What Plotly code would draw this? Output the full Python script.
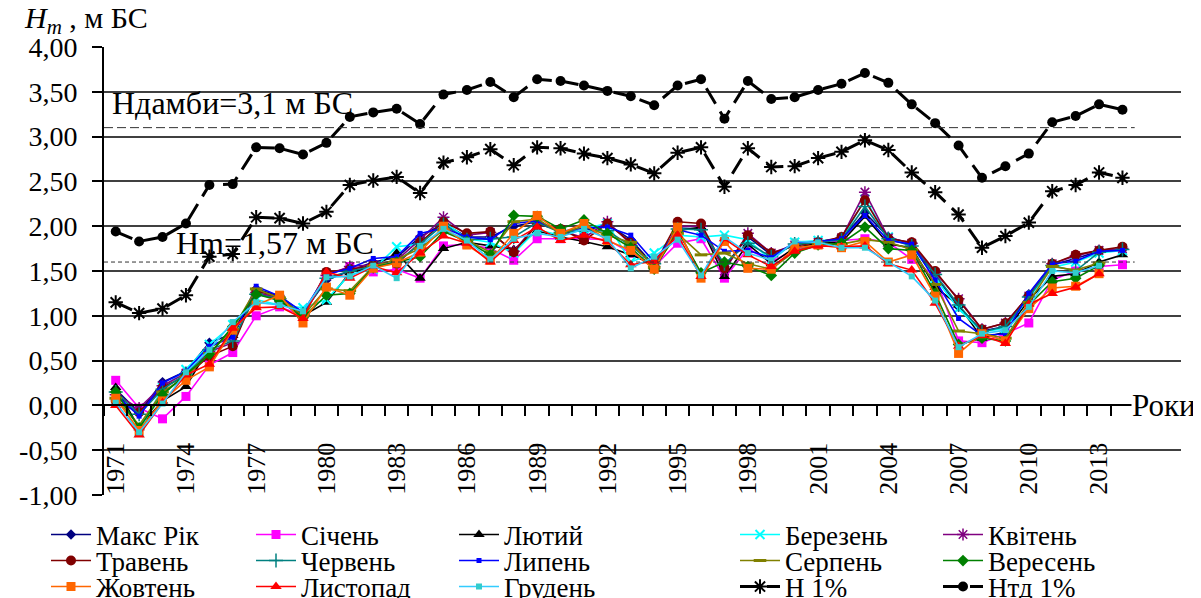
import plotly.graph_objects as go

years = list(range(1971, 2015))
tick_years = list(range(1971, 2014, 3))
tick_year_text = [str(y) for y in tick_years]
y_ticks = [4.0, 3.5, 3.0, 2.5, 2.0, 1.5, 1.0, 0.5, 0.0, -0.5, -1.0]
y_tick_text = ["4,00", "3,50", "3,00", "2,50", "2,00", "1,50", "1,00", "0,50", "0,00", "-0,50", "-1,00"]

maks = [.18,-.08,.26,.38,.70,.80,1.30,1.22,1.03,1.40,1.50,1.60,1.65,1.88,2.03,1.88,1.88,2.00,2.05,1.94,1.95,2.02,1.85,1.56,1.98,1.97,1.55,1.88,1.68,1.80,1.83,1.86,2.15,1.88,1.80,1.45,1.10,.83,.88,1.24,1.57,1.64,1.72,1.74]
sich = [.28,-.03,-.15,.10,.45,.59,1.00,1.10,1.00,1.45,1.55,1.49,1.52,1.42,1.78,1.80,1.75,1.62,1.86,1.86,1.86,1.85,1.70,1.55,1.81,1.86,1.42,1.75,1.60,1.74,1.80,1.84,1.86,1.82,1.63,1.44,.72,.70,.80,.92,1.40,1.50,1.55,1.57]
lyut = [.20,-.25,.05,.21,.65,.78,1.25,1.18,1.00,1.15,1.48,1.55,1.70,1.42,1.75,1.82,1.78,1.74,1.95,1.88,1.83,1.77,1.68,1.57,1.95,1.99,1.44,1.80,1.58,1.76,1.81,1.82,2.11,1.80,1.76,1.32,1.12,.75,.82,1.18,1.44,1.47,1.60,1.68]
ber = [.10,-.30,.20,.40,.68,.90,1.18,1.12,1.09,1.18,1.46,1.52,1.77,1.80,2.05,1.86,1.82,1.70,1.96,1.90,1.97,2.03,1.60,1.70,1.90,1.88,1.90,1.85,1.62,1.82,1.84,1.85,2.30,1.88,1.78,1.42,1.08,.82,.86,1.20,1.54,1.60,1.70,1.73]
kvit = [.12,-.03,.22,.36,.60,.70,1.26,1.20,1.01,1.45,1.55,1.57,1.62,1.85,2.10,1.90,1.93,1.72,2.03,1.95,1.87,2.05,1.80,1.55,2.00,2.00,1.50,1.92,1.70,1.79,1.82,1.87,2.38,1.87,1.81,1.48,1.19,.85,.92,1.22,1.58,1.67,1.73,1.75]
trav = [.05,-.08,.20,.33,.55,.66,1.28,1.21,1.00,1.49,1.52,1.56,1.58,1.82,2.05,1.92,1.94,1.71,2.02,1.97,1.84,2.03,1.82,1.56,2.05,2.03,1.53,1.90,1.70,1.78,1.82,1.88,2.29,1.86,1.82,1.50,1.18,.85,.92,1.22,1.58,1.68,1.73,1.77]
cherv = [.15,-.10,.18,.35,.62,.72,1.24,1.19,1.02,1.42,1.50,1.55,1.60,1.80,2.02,1.85,1.86,1.88,2.04,1.93,1.95,1.95,1.78,1.58,1.97,1.96,1.58,1.81,1.66,1.80,1.82,1.85,2.22,1.86,1.78,1.46,1.12,.82,.88,1.21,1.56,1.50,1.71,1.74]
lyp = [.12,-.12,.25,.38,.66,.76,1.33,1.22,1.04,1.46,1.53,1.64,1.66,1.92,1.98,1.88,1.85,2.03,2.06,1.94,1.98,1.99,1.90,1.60,1.96,1.90,1.72,1.73,1.65,1.82,1.83,1.86,2.12,1.84,1.80,1.40,.97,.78,.80,1.25,1.58,1.61,1.72,1.73]
serp = [.08,-.22,.15,.32,.58,.85,1.30,1.20,1.00,1.30,1.28,1.55,1.63,1.75,1.96,1.84,1.71,2.05,2.08,1.92,2.00,1.90,1.82,1.54,1.92,1.68,1.70,1.58,1.52,1.72,1.80,1.80,1.85,1.82,1.74,1.35,.83,.80,.75,1.15,1.55,1.51,1.59,None]
veres = [.15,-.25,.12,.34,.57,.88,1.24,1.17,.98,1.23,1.25,1.54,1.60,1.66,1.94,1.83,1.68,2.12,2.11,1.97,2.07,1.92,1.76,1.52,1.95,1.48,1.60,1.55,1.45,1.70,1.79,1.81,1.99,1.75,1.73,1.25,.68,.75,.72,1.12,1.38,1.42,1.56,None]
zhovt = [.08,-.28,.05,.28,.43,.84,1.12,1.23,.92,1.32,1.23,1.53,1.59,1.71,2.00,1.79,1.62,1.92,2.12,1.92,2.03,1.84,1.73,1.52,1.99,1.42,1.83,1.53,1.52,1.76,1.79,1.76,1.83,1.60,1.68,1.22,.58,.80,.72,1.08,1.31,1.33,1.47,None]
lyst = [.00,-.33,.03,.34,.46,.86,1.09,1.10,.97,1.49,1.42,1.55,1.48,1.70,1.89,1.81,1.60,1.84,1.99,1.84,1.90,1.83,1.57,1.61,1.90,1.44,1.86,1.68,1.55,1.72,1.78,1.77,1.78,1.58,1.51,1.14,.66,.78,.69,1.13,1.25,1.32,1.47,None]
hrud = [.03,-.30,.02,.37,.62,.93,1.15,1.12,1.05,1.43,1.44,1.56,1.42,1.78,1.97,1.84,1.63,1.86,1.92,1.88,1.97,1.86,1.53,1.66,1.85,1.45,1.88,1.70,1.62,1.83,1.82,1.76,1.76,1.60,1.44,1.17,.65,.80,.84,1.10,1.50,1.48,1.56,None]
h1 = [1.15,1.03,1.08,1.23,1.66,1.69,2.10,2.09,2.03,2.16,2.46,2.51,2.55,2.37,2.71,2.77,2.86,2.68,2.88,2.87,2.81,2.76,2.69,2.59,2.82,2.88,2.44,2.87,2.66,2.67,2.76,2.83,2.96,2.85,2.60,2.38,2.13,1.76,1.89,2.04,2.39,2.46,2.60,2.54]
htd1 = [1.94,1.83,1.88,2.03,2.46,2.47,2.88,2.87,2.80,2.93,3.22,3.27,3.31,3.14,3.47,3.52,3.61,3.44,3.64,3.62,3.57,3.51,3.45,3.35,3.57,3.64,3.20,3.62,3.42,3.44,3.52,3.59,3.71,3.60,3.36,3.15,2.90,2.54,2.67,2.81,3.16,3.23,3.36,3.30]

h_damby = 3.1
h_m = 1.6

FONT = "Liberation Serif"

series = [
    ("Макс Рік", maks, "#000080", "#000080", "diamond", 8, None),
    ("Січень", sich, "#FF00FF", "#FF00FF", "square", 9, None),
    ("Лютий", lyut, "#000000", "#000000", "triangle-up", 10, None),
    ("Березень", ber, "#00FFFF", "#00FFFF", "x-thin", 9, 2),
    ("Квітень", kvit, "#800080", "#800080", "asterisk", 10, 1.5),
    ("Травень", trav, "#800000", "#800000", "circle", 10, None),
    ("Червень", cherv, "#008080", "#008080", "cross-thin", 10, 1.5),
    ("Липень", lyp, "#0000FF", "#0000FF", "square", 5, None),
    ("Серпень", serp, "#808000", "#808000", "line-ew", 9, 3),
    ("Вересень", veres, "#008000", "#008000", "diamond", 9, None),
    ("Жовтень", zhovt, "#FF6600", "#FF6600", "square", 9, None),
    ("Листопад", lyst, "#FF0000", "#FF0000", "triangle-up", 10, None),
    ("Грудень", hrud, "#33CCFF", "#33CCCC", "square", 6, None),
]
legend_ids = ["legend", "legend2", "legend3"]
col_widths = [150, 148, 226, 148, 148]

fig = go.Figure()
for i, (name, vals, lc, mc, sym, sz, mlw) in enumerate(series):
    marker = dict(symbol=sym, size=sz, color=mc)
    if mlw:
        marker["line"] = dict(color=mc, width=mlw)
    else:
        marker["line"] = dict(width=0)
    fig.add_trace(go.Scatter(x=years, y=vals, name=name, mode="lines+markers",
                             legend=legend_ids[i // 5], legendwidth=col_widths[i % 5],
                             line=dict(color=lc, width=1.6), marker=marker))

fig.add_trace(go.Scatter(x=years, y=h1, name="Н 1%", mode="lines+markers", legend="legend3",
                         legendwidth=col_widths[3],
                         line=dict(color="black", width=3, dash="18px,9px"),
                         marker=dict(symbol="asterisk", size=12, color="black",
                                     line=dict(color="black", width=2))))
fig.add_trace(go.Scatter(x=years, y=htd1, name="Нтд 1%", mode="lines+markers", legend="legend3",
                         legendwidth=col_widths[4],
                         line=dict(color="black", width=3, dash="18px,9px"),
                         marker=dict(symbol="circle", size=10, color="black")))

# reference levels
fig.add_shape(type="line", xref="paper", yref="y", x0=0, x1=0.957, y0=h_damby, y1=h_damby,
              line=dict(color="#333333", width=1, dash="9px,4px"))
fig.add_shape(type="line", xref="paper", yref="y", x0=0, x1=0.957, y0=h_m, y1=h_m,
              line=dict(color="#333333", width=1, dash="4px,3px"))

# positions below are relative to the plot area (paper units)
fig.add_annotation(text="Ндамби=3,1 м БС", xref="paper", yref="paper",
                   x=(110 - 104) / 1077, y=(495 - 103) / 448, xanchor="left", yanchor="middle",
                   showarrow=False, font=dict(family=FONT, size=32, color="black"))
fig.add_annotation(text="Hm=1,57 м БС", xref="paper", yref="paper",
                   x=(174 - 104) / 1077, y=(495 - 243) / 448, xanchor="left", yanchor="middle",
                   showarrow=False, font=dict(family=FONT, size=32, color="black"))
fig.add_annotation(text="<i>H</i><sub><i>m</i></sub> , м БС", xref="paper", yref="paper",
                   x=(22 - 104) / 1077, y=(495 - 20) / 448, xanchor="left", yanchor="middle",
                   showarrow=False, font=dict(family=FONT, size=30, color="black"))
fig.add_annotation(text="Роки", xref="paper", yref="paper",
                   x=(1197 - 104) / 1077, y=(495 - 405) / 448, xanchor="right", yanchor="middle",
                   showarrow=False, bgcolor="white", borderpad=0,
                   font=dict(family=FONT, size=31, color="black"))

leg_common = dict(orientation="h", xanchor="left", yanchor="middle",
                  font=dict(family=FONT, size=27, color="black"),
                  itemwidth=40, bgcolor="rgba(0,0,0,0)")
legx = (46 - 104) / 1077

# the page body adds an 8px offset, so the figure is 8px smaller than the window
fig.update_layout(
    width=1193, height=590,
    margin=dict(l=96, r=20, t=39, b=103, autoexpand=False),
    paper_bgcolor="white", plot_bgcolor="white",
    showlegend=True,
    legend=dict(x=legx, y=(495 - 535) / 448, **leg_common),
    legend2=dict(x=legx, y=(495 - 561) / 448, **leg_common),
    legend3=dict(x=legx, y=(495 - 587) / 448, **leg_common),
    xaxis=dict(range=[1970.5, 2016.5], anchor="free", position=0.2,
               tickmode="array", tickvals=tick_years, ticktext=tick_year_text,
               tickangle=-90, ticks="outside", ticklen=12, tickcolor="rgba(0,0,0,0)",
               ticklabelstandoff=14,
               tickfont=dict(family=FONT, size=26, color="black"),
               showline=True, linecolor="black", linewidth=2,
               showgrid=False, zeroline=False,
               minor=dict(tickmode="array", tickvals=[1970.5 + i for i in range(46)],
                          ticks="outside", ticklen=10, tickcolor="black", tickwidth=1.5,
                          showgrid=False)),
    yaxis=dict(range=[-1, 4], tickmode="array", tickvals=y_ticks, ticktext=y_tick_text,
               ticks="outside", ticklen=10, tickcolor="black", tickwidth=1.5,
               ticklabelstandoff=9,
               tickfont=dict(family=FONT, size=28, color="black"),
               showline=True, linecolor="black", linewidth=2,
               showgrid=True, gridcolor="#404040", gridwidth=1.5, zeroline=False),
)

fig.write_html("out.html")
